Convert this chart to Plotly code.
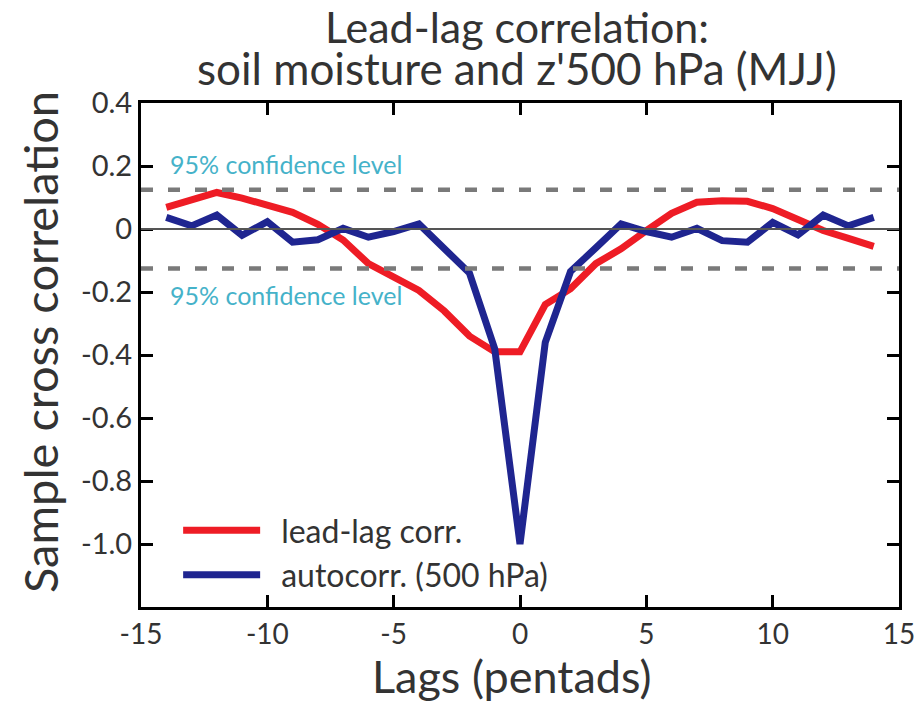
import plotly.graph_objects as go

lags = list(range(-14, 15))
lead_lag_corr = [0.069, 0.095, 0.116, 0.098, 0.078, 0.053, 0.015, -0.035, -0.11, -0.155,
                 -0.195, -0.26, -0.34, -0.39, -0.39, -0.24, -0.19, -0.11, -0.063, -0.005,
                 0.05, 0.085, 0.09, 0.088, 0.065, 0.03, -0.005, -0.03, -0.055]
autocorr_500 = [0.037, 0.01, 0.044, -0.02, 0.023, -0.042, -0.034, 0.002, -0.026, -0.008,
                0.016, -0.062, -0.14, -0.38, -1.0, -0.36, -0.135, -0.06, 0.016, -0.008,
                -0.026, 0.002, -0.037, -0.042, 0.021, -0.019, 0.044, 0.01, 0.037]
conf_level = 0.125
x_ticks = [-15, -10, -5, 0, 5, 10, 15]
y_ticks = [0.4, 0.2, 0, -0.2, -0.4, -0.6, -0.8, -1.0]
y_tick_labels = ["0.4", "0.2", "0", "-0.2", "-0.4", "-0.6", "-0.8", "-1.0"]

FONT = "Lato"
TXT = "#333333"
CONF_COLOR = "#45b2c9"

fig = go.Figure()
fig.add_hline(y=0, line=dict(color="#555555", width=2))
for lvl in (conf_level, -conf_level):
    fig.add_hline(y=lvl, line=dict(color="#7a7a7a", width=4.5, dash="12px,15px"))

fig.add_trace(go.Scatter(x=lags, y=lead_lag_corr, mode="lines", name="\u2002lead-lag corr.",
                         line=dict(color="#ee1c25", width=7)))
fig.add_trace(go.Scatter(x=lags, y=autocorr_500, mode="lines", name="\u2002autocorr. (500 hPa)",
                         line=dict(color="#1f2590", width=7)))

for yy in (0.206, -0.21):
    fig.add_annotation(x=-14.1, y=yy, xref="x", yref="y", text="95% confidence level",
                       showarrow=False, xanchor="left", yanchor="middle", xshift=4,
                       font=dict(family=FONT, size=25, color=CONF_COLOR))

# title (two lines, tight spacing)
fig.add_annotation(x=0.496, y=1.152, xref="paper", yref="paper", text="Lead-lag correlation:",
                   showarrow=False, xanchor="center", yanchor="middle",
                   font=dict(family=FONT, size=43, color=TXT))
fig.add_annotation(x=0.496, y=1.069, xref="paper", yref="paper", text="soil moisture and z'500 hPa (MJJ)",
                   showarrow=False, xanchor="center", yanchor="middle",
                   font=dict(family=FONT, size=44, color=TXT))
# axis titles
fig.add_annotation(x=-0.133, y=0.526, xref="paper", yref="paper", text="Sample cross correlation",
                   showarrow=False, xanchor="center", yanchor="middle", textangle=-90,
                   font=dict(family=FONT, size=47, color=TXT))
fig.add_annotation(x=0.489, y=-0.137, xref="paper", yref="paper", text="Lags (pentads)",
                   showarrow=False, xanchor="center", yanchor="middle",
                   font=dict(family=FONT, size=45, color=TXT))

fig.update_layout(
    width=921, height=702,
    margin=dict(l=141, r=22, t=103, b=95, autoexpand=False),
    paper_bgcolor="white", plot_bgcolor="white",
    font=dict(family=FONT, color=TXT),
    legend=dict(x=0.049, y=0.008, xanchor="left", yanchor="bottom",
                bgcolor="rgba(0,0,0,0)", font=dict(family=FONT, size=32, color=TXT),
                tracegroupgap=0, itemwidth=77),
    showlegend=True,
)
fig.update_xaxes(range=[-15, 15], tickvals=x_ticks, ticktext=[str(v) for v in x_ticks],
                 showgrid=False, zeroline=False, showline=True, linecolor="black", linewidth=3,
                 mirror="allticks", ticks="inside", ticklen=12, tickwidth=3, tickcolor="black",
                 automargin=False,
                 tickfont=dict(family=FONT, size=28, color=TXT))
fig.update_yaxes(range=[-1.2, 0.4], tickvals=y_ticks, ticktext=y_tick_labels,
                 showgrid=False, zeroline=False, showline=True, linecolor="black", linewidth=3,
                 mirror="allticks", ticks="inside", ticklen=12, tickwidth=3, tickcolor="black",
                 automargin=False,
                 tickfont=dict(family=FONT, size=29, color=TXT))

fig.write_html("out.html", config={"displayModeBar": False},
               post_script="document.body.style.margin='0';document.body.style.overflow='hidden';")
